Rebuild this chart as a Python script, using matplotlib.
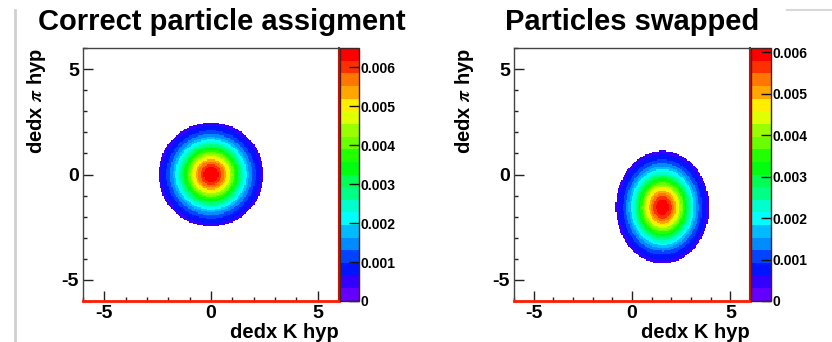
import colorsys

import matplotlib

matplotlib.use("Agg")
import matplotlib.pyplot as plt
import numpy as np
from matplotlib.colors import BoundaryNorm, ListedColormap
from matplotlib.lines import Line2D
from matplotlib.ticker import FuncFormatter, MultipleLocator

plt.rcParams["font.family"] = ["Liberation Sans", "DejaVu Sans"]
plt.rcParams["font.weight"] = "bold"
plt.rcParams["axes.labelweight"] = "bold"
plt.rcParams["mathtext.fontset"] = "stix"
plt.rcParams["axes.unicode_minus"] = False

# histogram range and binning
axis_range = (-6.0, 6.0)
n_bins = 200

# two panels: 2D gaussian pull distributions, cut at a fixed number of sigma
titles = ["Correct particle assigment", "Particles swapped"]
centers_x = [0.0, 1.55]
centers_y = [0.0, -1.55]
sigmas_x = [1.07, 1.03]
sigmas_y = [1.07, 1.16]
peaks = [0.0065, 0.0061]
cut_nsigma = 2.3

cbar_ticks = [0.0, 0.001, 0.002, 0.003, 0.004, 0.005, 0.006]
n_contours = 20


def root_palette(n_levels, n_colors=50):
    # ROOT "pretty" palette: HLS hue 280 -> 0, then picked per contour level
    colors = []
    for k in range(n_levels):
        idx = int((k + 0.99) * n_colors / n_levels)
        hue = 280.0 - (idx + 1) * 280.0 / n_colors
        colors.append(colorsys.hls_to_rgb(hue / 360.0, 0.5, 1.0))
    return ListedColormap(colors)


def make_hist(cx, cy, sx, sy, peak):
    edges = np.linspace(axis_range[0], axis_range[1], n_bins + 1)
    mids = 0.5 * (edges[:-1] + edges[1:])
    xx, yy = np.meshgrid(mids, mids)
    r2 = ((xx - cx) / sx) ** 2 + ((yy - cy) / sy) ** 2
    z = peak * np.exp(-0.5 * r2)
    z = np.ma.masked_where(r2 > cut_nsigma ** 2, z)
    return edges, z


fig = plt.figure(figsize=(8.32, 3.42), dpi=100)
W, H = 832.0, 342.0

# pixel boxes (left, top, right, bottom) for plot and palette
axes_px = [(83, 48, 339, 301), (514, 48, 750, 301)]
cbar_px = [(340, 48, 359, 301), (751, 48, 771, 301)]
title_x = [222, 632]
ylabel_x = [37, 465]

cmap = root_palette(n_contours)

for i in range(2):
    l, t, r, b = axes_px[i]
    ax = fig.add_axes([l / W, 1 - b / H, (r - l) / W, (b - t) / H])
    cl, ct, cr, cb = cbar_px[i]
    cax = fig.add_axes([cl / W, 1 - cb / H, (cr - cl) / W, (cb - ct) / H])

    edges, z = make_hist(centers_x[i], centers_y[i], sigmas_x[i], sigmas_y[i], peaks[i])
    levels = np.linspace(0, peaks[i], n_contours + 1)
    norm = BoundaryNorm(levels, cmap.N)
    mesh = ax.pcolormesh(edges, edges, z, cmap=cmap, norm=norm, shading="flat")

    ax.set_xlim(axis_range)
    ax.set_ylim(axis_range)
    ax.xaxis.set_major_locator(MultipleLocator(5))
    ax.yaxis.set_major_locator(MultipleLocator(5))
    ax.xaxis.set_minor_locator(MultipleLocator(1))
    ax.yaxis.set_minor_locator(MultipleLocator(1))
    ax.tick_params(which="major", direction="in", length=7, width=1, color="#222222",
                   labelsize=14, pad=3)
    ax.tick_params(which="minor", direction="in", length=3, width=1, color="#222222")
    ax.tick_params(top=False, right=False, which="both")
    for side in ["top", "left"]:
        ax.spines[side].set_color("#444444")
        ax.spines[side].set_linewidth(1.0)
    ax.spines["bottom"].set_color("#ff1a00")
    ax.spines["bottom"].set_linewidth(2.0)
    ax.spines["right"].set_color("#cc1100")
    ax.spines["right"].set_linewidth(1.5)

    # axis titles in pixel positions, ROOT style (right / top aligned)
    fig.text(r / W, 1 - 332 / H, "dedx K hyp", fontsize=14.5, ha="right", va="center")
    fig.text(ylabel_x[i] / W, 1 - 48 / H, r"dedx $\pi$ hyp", rotation=90, fontsize=14.5,
             ha="center", va="top")

    cb = fig.colorbar(mesh, cax=cax, ticks=cbar_ticks)
    cb.outline.set_edgecolor("#442222")
    cb.outline.set_linewidth(1.0)
    cax.yaxis.set_major_formatter(FuncFormatter(lambda v, p: "0" if v == 0 else f"{v:.3f}"))
    cax.tick_params(direction="in", length=7, width=1, color="#111111", labelsize=10, pad=1)
    cax.minorticks_off()

    fig.text(title_x[i] / W, 1 - 22 / H, titles[i], fontsize=21, ha="center", va="center")

# slide edges visible in the screenshot
fig.add_artist(Line2D([15 / W, 15 / W], [0, 1 - 10 / H], color="#d0d0d0", linewidth=2))
fig.add_artist(Line2D([787 / W, 1.0], [1 - 10 / H, 1 - 10 / H], color="#d8d8d8", linewidth=1.5))

fig.savefig("out.png", dpi=100)
